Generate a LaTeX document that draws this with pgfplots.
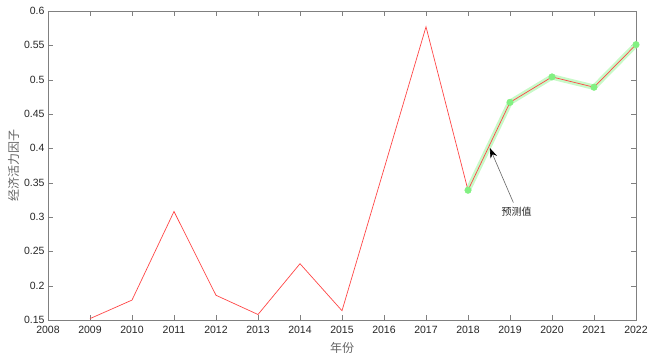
\documentclass[border=0pt]{standalone}
\usepackage{pgfplots}
\pgfplotsset{compat=1.18}
\usepackage{fontspec}
\setmainfont{Liberation Sans}
\newfontfamily\cjk{Noto Sans CJK SC}
\usetikzlibrary{arrows.meta}
\definecolor{axgray}{RGB}{128,128,128}
\definecolor{lblgray}{RGB}{100,100,100}
\definecolor{ticktxt}{RGB}{38,38,38}
\definecolor{bandgreen}{RGB}{200,250,200}
\definecolor{markgreen}{RGB}{130,240,130}
\definecolor{linered}{RGB}{255,70,70}
\begin{document}
\begin{tikzpicture}
\useasboundingbox (-48pt,-38pt) rectangle (602pt,320pt);
\begin{axis}[
  scale only axis,
  width=588pt, height=309pt,
  xmin=2008, xmax=2022, ymin=0.15, ymax=0.6,
  xtick={2008,2009,...,2022},
  ytick={0.15,0.2,...,0.6},
  yticklabels={0.15,0.2,0.25,0.3,0.35,0.4,0.45,0.5,0.55,0.6},
  /pgf/number format/assume math mode=true,
  xticklabel={\pgfmathprintnumber[1000 sep={},fixed]{\tick}},
  tick label style={font=\fontsize{10.5}{12}\selectfont, text=ticktxt},
  xticklabel style={yshift=-3pt},
  axis line style={axgray},
  tick style={axgray, major tick length=5pt},
  tick align=inside,
  xtick pos=both, ytick pos=both,
  xlabel={\cjk 年份}, ylabel={\cjk 经济活力因子},
  label style={font=\fontsize{12}{14}\selectfont, text=lblgray},
  xlabel style={yshift=-2pt},
  ylabel style={yshift=-2pt},
  clip=false,
]
\addplot[bandgreen, line width=5.5pt, line join=round, mark=*, mark size=3.3pt,
  mark options={fill=markgreen, draw=markgreen, line width=0.4pt}] coordinates {
  (2018,0.339) (2019,0.467) (2020,0.504) (2021,0.489) (2022,0.551)};
\addplot[linered, line width=0.7pt, no marks] coordinates {
  (2009,0.152) (2010,0.179) (2011,0.308) (2012,0.186) (2013,0.158)
  (2014,0.232) (2015,0.1635) (2016,0.37) (2017,0.577) (2018,0.339)
  (2019,0.467) (2020,0.504) (2021,0.489) (2022,0.551)};
\draw[black!60, line width=0.6pt, arrows={-{Stealth[length=10pt,width=7pt,black]}}]
  (axis cs:2019.08,0.321) -- (axis cs:2018.52,0.4005);
\node[font=\cjk\fontsize{10}{12}\selectfont, text=ticktxt] at (axis cs:2019.16,0.307) {预测值};
\end{axis}
\end{tikzpicture}
\end{document}
